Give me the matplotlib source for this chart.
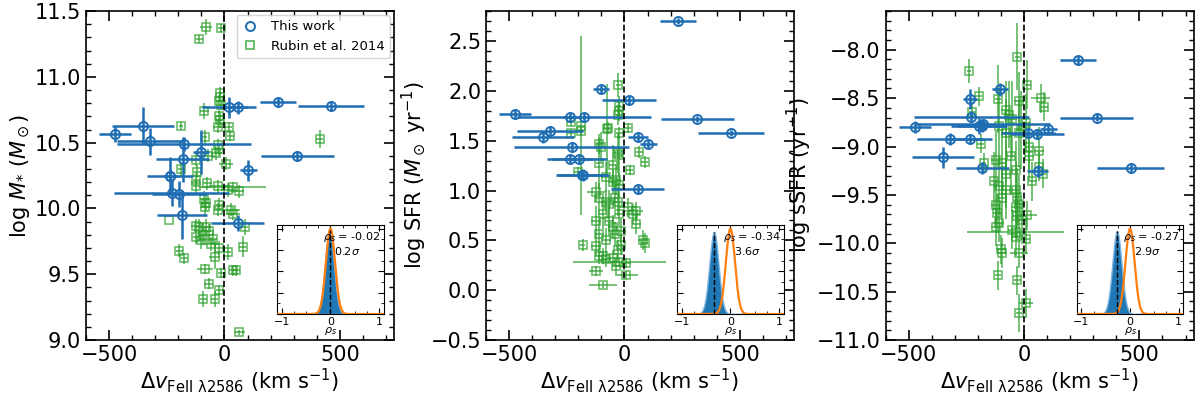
import matplotlib
matplotlib.use("Agg")
import matplotlib.pyplot as plt
import numpy as np
from matplotlib.lines import Line2D
from matplotlib.ticker import MultipleLocator

# ---- This work (shared velocity offsets) ----
dv_this = [-474, -352, -322, -236, -236, -229, -196, -181, -177, -184,
           -103, 19, 57, 59, 104, 232, 315, 462]
dv_this_err = [70, 134, 142, 98, 30, 250, 120, 115, 290, 107,
               34, 117, 115, 45, 37, 78, 158, 144]
mstar_this = [10.565, 10.63, 10.51, 10.25, 10.25, 10.12, 10.11, 10.375, 10.49, 9.95,
              10.43, 10.77, 9.89, 10.77, 10.29, 10.81, 10.40, 10.78]
mstar_this_err = [0.06, 0.14, 0.10, 0.14, 0.05, 0.10, 0.10, 0.17, 0.05, 0.18,
                  0.17, 0.08, 0.06, 0.05, 0.08, 0.04, 0.04, 0.04]
sfr_this = [1.77, 1.54, 1.595, 1.32, 1.74, 1.44, 1.32, 1.16, 1.74, 1.16,
            2.02, 1.91, 1.02, 1.54, 1.47, 2.70, 1.72, 1.58]
sfr_this_err = [0.05, 0.06, 0.05, 0.04, 0.05, 0.05, 0.04, 0.06, 0.04, 0.05,
                0.04, 0.04, 0.04, 0.05, 0.04, 0.03, 0.03, 0.03]
ssfr_this = [-8.80, -9.11, -8.92, -8.92, -8.51, -8.69, -8.79, -9.22, -8.77, -8.79,
             -8.41, -8.86, -8.87, -9.25, -8.82, -8.11, -8.70, -9.22]
ssfr_this_err = [0.06, 0.11, 0.06, 0.05, 0.10, 0.06, 0.08, 0.06, 0.05, 0.06,
                 0.07, 0.05, 0.05, 0.06, 0.06, 0.05, 0.04, 0.05]

# ---- Rubin et al. 2014, stellar mass panel ----
dv_r_m = [-80, -109, -14, -20, -18, -25, -15, -87, -25, -20, -28, 19, -188, -84, 26,
          413, -30, -25, -35, -72, -123, 7, -188, -119, -123, -123, -75, -29, 14, 36,
          65, -87, -80, -84, -22, -29, 29, 36, -239, -123, -109, -80, -65, -94, -101,
          -51, -123, -58, 87, 80, -195, -174, -43, 14, -22, -83, 36, 51, -14, -68,
          -22, -91, -43, 65]
dv_r_m_err = [25, 15, 15, 10, 10, 10, 10, 20, 15, 15, 20, 15, 10, 10, 15,
              15, 20, 15, 25, 30, 20, 30, 15, 15, 15, 15, 20, 40, 30, 145,
              20, 20, 20, 20, 15, 15, 40, 30, 0, 20, 20, 20, 20, 20, 20,
              20, 15, 30, 15, 15, 15, 15, 25, 15, 15, 35, 15, 15, 15, 20,
              15, 15, 15, 25]
mstar_r = [11.38, 11.29, 11.37, 10.88, 10.85, 10.82, 10.79, 10.74, 10.70, 10.67, 10.62, 10.62, 10.63, 10.54, 10.55,
           10.53, 10.48, 10.45, 10.42, 10.40, 10.37, 10.34, 10.30, 10.28, 10.22, 10.17, 10.19, 10.17, 10.14, 10.16,
           10.13, 10.07, 10.04, 10.01, 10.03, 9.99, 9.99, 9.96, 9.91, 9.87, 9.86, 9.86, 9.83, 9.80, 9.76,
           9.77, 9.78, 9.73, 9.86, 9.71, 9.68, 9.62, 9.63, 9.67, 9.70, 9.54, 9.53, 9.53, 9.51, 9.43,
           9.38, 9.31, 9.31, 9.06]
mstar_r_err = [0.06, 0.03, 0.03, 0.04, 0.04, 0.04, 0.04, 0.06, 0.05, 0.06, 0.05, 0.04, 0.03, 0.06, 0.04,
               0.07, 0.05, 0.05, 0.05, 0.05, 0.05, 0.05, 0.05, 0.05, 0.05, 0.05, 0.05, 0.05, 0.05, 0.04,
               0.05, 0.06, 0.06, 0.06, 0.05, 0.05, 0.05, 0.05, 0.0, 0.05, 0.06, 0.06, 0.05, 0.08, 0.07,
               0.05, 0.05, 0.05, 0.06, 0.08, 0.05, 0.04, 0.09, 0.06, 0.05, 0.04, 0.04, 0.04, 0.04, 0.04,
               0.04, 0.06, 0.06, 0.02]

# ---- Rubin et al. 2014, SFR panel ----
dv_r_s = [-188, -74, -26, -25, -22, -27, -232, -190, -72, 14, -22, -232, -109, -103, -29,
          -22, 65, 87, -109, -51, 22, -203, -80, -51, -36, -22, -123, -109, -80, -65,
          -43, -29, -94, -65, -22, -51, 14, 36, 51, -123, -109, -80, -43, -14, 51,
          80, 87, -181, -123, -109, -94, -80, -51, -36, -22, 7, -123, 7, -94, -30, -15]
dv_r_s_err = [15, 10, 12, 10, 10, 10, 15, 15, 20, 15, 15, 15, 15, 15, 15,
              15, 15, 15, 15, 15, 15, 15, 20, 20, 20, 20, 40, 20, 20, 20,
              20, 20, 20, 20, 20, 20, 40, 30, 30, 20, 20, 20, 20, 20, 20,
              20, 15, 10, 20, 20, 20, 20, 20, 20, 200, 20, 30, 50, 60, 15, 15]
sfr_r = [1.65, 1.62, 2.06, 1.85, 1.80, 1.76, 1.69, 1.60, 1.63, 1.63, 1.58, 1.58, 1.47, 1.44, 1.38,
         1.36, 1.39, 1.29, 1.28, 1.26, 1.21, 1.19, 1.14, 1.09, 1.11, 1.06, 0.99, 0.93, 0.89, 0.86,
         0.93, 0.89, 0.76, 0.69, 0.76, 0.63, 0.83, 0.76, 0.79, 0.69, 0.56, 0.50, 0.56, 0.59, 0.66,
         0.50, 0.47, 0.45, 0.44, 0.34, 0.34, 0.31, 0.32, 0.24, 0.28, 0.27, 0.19, 0.15, 0.05, 0.40, 0.45]
sfr_r_err = [0.90, 0.45, 0.12, 0.10, 0.10, 0.10, 0.04, 0.05, 0.06, 0.05, 0.06, 0.04, 0.10, 0.15, 0.20,
             0.20, 0.06, 0.06, 0.25, 0.20, 0.05, 0.05, 0.15, 0.12, 0.15, 0.12, 0.10, 0.15, 0.12, 0.15,
             0.12, 0.15, 0.15, 0.15, 0.12, 0.12, 0.10, 0.10, 0.10, 0.15, 0.15, 0.12, 0.12, 0.12, 0.10,
             0.10, 0.10, 0.06, 0.10, 0.08, 0.08, 0.08, 0.08, 0.08, 0.05, 0.05, 0.05, 0.04, 0.03, 0.10, 0.10]

# ---- Rubin et al. 2014, sSFR panel ----
dv_r_ss = [-29, -239, 14, -196, -113, -80, -65, -22, 87, 72, -225, -51, -109, -80, -22,
           7, 22, 22, 65, -174, -188, -123, -94, -80, -36, 65, 80, -130, -109, -80,
           -94, -36, -29, -22, 36, -123, -116, -36, -29, 14, -7, -123, -109, -51, -36,
           -36, -100, -94, -22, 7, -113, -29, 7, -22, -14, -58]
dv_r_ss_err = [10, 10, 15, 15, 15, 20, 20, 20, 15, 40, 15, 20, 20, 20, 20,
               20, 20, 20, 20, 10, 15, 20, 20, 20, 20, 15, 15, 15, 20, 20,
               20, 20, 20, 20, 20, 20, 20, 20, 20, 40, 20, 20, 20, 20, 20,
               210, 20, 20, 40, 20, 15, 15, 30, 15, 20, 20]
ssfr_r = [-8.07, -8.22, -8.36, -8.48, -8.51, -8.62, -8.67, -8.53, -8.59, -8.50, -8.64, -8.72, -8.79, -8.86, -8.86,
          -8.76, -9.00, -9.10, -9.05, -9.17, -8.97, -9.14, -9.17, -9.28, -9.24, -9.21, -9.28, -9.36, -9.41, -9.45,
          -9.53, -9.45, -9.52, -9.59, -9.36, -9.60, -9.69, -9.62, -9.72, -9.71, -9.76, -9.83, -9.79, -9.86, -9.93,
          -9.88, -10.06, -10.10, -10.10, -9.96, -10.33, -10.38, -10.62, -10.72, -8.83, -9.10]
ssfr_r_err = [0.35, 0.12, 0.25, 0.10, 0.35, 0.30, 0.35, 0.30, 0.15, 0.15, 0.10, 0.40, 0.40, 0.35, 0.35,
              0.30, 0.25, 0.25, 0.25, 0.10, 0.10, 0.30, 0.35, 0.35, 0.30, 0.15, 0.15, 0.30, 0.30, 0.30,
              0.30, 0.30, 0.30, 0.30, 0.20, 0.20, 0.20, 0.20, 0.25, 0.15, 0.20, 0.20, 0.20, 0.20, 0.20,
              0.05, 0.15, 0.15, 0.15, 0.15, 0.15, 0.15, 0.15, 0.20, 0.40, 0.40]

# ---- Spearman inset summaries ----
rho_obs = [-0.02, -0.34, -0.27]
rho_sig = ["0.2", "3.6", "2.9"]
rho_boot_width = [0.09, 0.095, 0.095]
rho_boot_peak = [0.98, 0.96, 0.97]
rho_null_width = 0.094

ylabels = [r"log $M_{*}$ ($M_\odot$)", r"log SFR ($M_\odot$ yr$^{-1}$)", r"log sSFR (yr$^{-1}$)"]
ylims = [(9.0, 11.5), (-0.5, 2.8), (-11.0, -7.6)]
XLABEL = r"$\Delta v_{\rm FeII\ \lambda2586}$ (km s$^{-1}$)"

BLUE = "#1f6db3"
GREEN = "#2ca02c"

this_y = [(mstar_this, mstar_this_err), (sfr_this, sfr_this_err), (ssfr_this, ssfr_this_err)]
rubin = [(dv_r_m, dv_r_m_err, mstar_r, mstar_r_err),
         (dv_r_s, dv_r_s_err, sfr_r, sfr_r_err),
         (dv_r_ss, dv_r_ss_err, ssfr_r, ssfr_r_err)]

fig = plt.figure(figsize=(12, 3.95), dpi=100)
lefts = [0.0717, 0.405, 0.738]

for i in range(3):
    ax = fig.add_axes([lefts[i], 0.139, 0.2567, 0.833])
    rx, rxe, ry, rye = rubin[i]
    ax.errorbar(rx, ry, xerr=rxe, yerr=rye, fmt="s", mfc="none", mec=GREEN, ecolor=GREEN,
                ms=6, mew=1.2, elinewidth=1.3, capsize=0, alpha=0.7, zorder=2)
    ty, tye = this_y[i]
    ax.errorbar(dv_this, ty, xerr=dv_this_err, yerr=tye, fmt="o", mfc="none", mec=BLUE,
                ecolor=BLUE, ms=6.5, mew=1.4, elinewidth=1.8, capsize=0, zorder=3)
    ax.axvline(0, color="black", ls="--", lw=1.2, zorder=4)
    ax.set_xlim(-600, 735)
    ax.set_ylim(*ylims[i])
    ax.xaxis.set_major_locator(MultipleLocator(500))
    ax.xaxis.set_minor_locator(MultipleLocator(100))
    ax.yaxis.set_major_locator(MultipleLocator(0.5))
    ax.yaxis.set_minor_locator(MultipleLocator(0.1))
    ax.tick_params(which="both", direction="in", top=True, right=True, labelsize=15)
    ax.tick_params(which="major", length=7, width=1.2)
    ax.tick_params(which="minor", length=3.5, width=1.0)
    for s in ax.spines.values():
        s.set_linewidth(1.2)
    ax.set_xlabel(XLABEL, fontsize=15, labelpad=1)
    ax.set_ylabel(ylabels[i], fontsize=15, labelpad=2)
    if i == 0:
        handles = [Line2D([], [], marker="o", ls="none", mfc="none", mec=BLUE, ms=6.5, mew=1.4),
                   Line2D([], [], marker="s", ls="none", mfc="none", mec=GREEN, ms=6, mew=1.2, alpha=0.8)]
        ax.legend(handles, ["This work", "Rubin et al. 2014"], loc="upper right", fontsize=9.5,
                  borderaxespad=0.3, handlelength=1.2, handletextpad=1.0)

    # inset: Spearman coefficient distributions
    ins = fig.add_axes([lefts[i] + 0.1592, 0.205, 0.089, 0.225])
    r = np.linspace(-1.1, 1.1, 600)
    null = np.exp(-0.5 * (r / rho_null_width) ** 2)
    boot = rho_boot_peak[i] * np.exp(-0.5 * ((r - rho_obs[i]) / rho_boot_width[i]) ** 2)
    ins.fill_between(r, 0, boot, color="#1f77b4", lw=1.0, edgecolor="#7fb5e0", zorder=2)
    ins.plot(r, null, color="#ff7f0e", lw=1.6, zorder=3)
    ins.vlines(rho_obs[i], 0, rho_boot_peak[i], colors="black", linestyles="--", lw=1.0, zorder=4)
    ins.set_xlim(-1.1, 1.1)
    ins.set_ylim(0, 1.04)
    ins.set_xticks([-1, 0, 1])
    ins.set_xticklabels(["\u22121", "0", "1"])
    ins.xaxis.set_minor_locator(MultipleLocator(0.25))
    ins.yaxis.set_major_locator(MultipleLocator(0.25))
    ins.yaxis.set_minor_locator(MultipleLocator(0.125))
    ins.set_yticklabels([])
    ins.tick_params(which="both", direction="in", top=True, right=True, labelsize=8, pad=2)
    ins.tick_params(which="major", length=4)
    ins.tick_params(which="minor", length=2)
    ins.set_xlabel(r"$\rho_s$", fontsize=8, labelpad=-1)
    ins.text(0.97, 0.95, r"$\rho_s$ = %.2f" % rho_obs[i], transform=ins.transAxes,
             ha="right", va="top", fontsize=8)
    ins.text(0.66, 0.78, r"%s$\sigma$" % rho_sig[i], transform=ins.transAxes,
             ha="center", va="top", fontsize=8)

fig.savefig("out.png", dpi=100)
